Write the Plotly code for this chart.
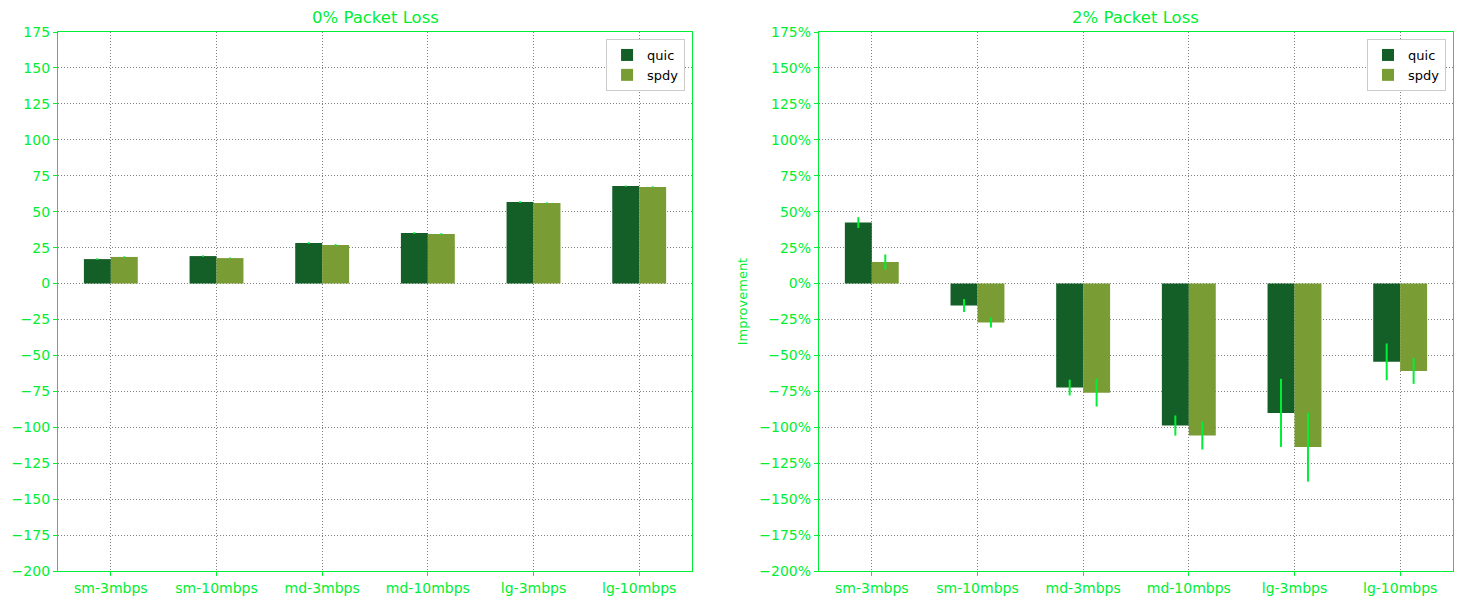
import plotly.graph_objects as go
from plotly.subplots import make_subplots

categories = ["sm-3mbps", "sm-10mbps", "md-3mbps", "md-10mbps", "lg-3mbps", "lg-10mbps"]

# 0% packet loss
quic_0 = [17.0, 19.1, 28.2, 35.1, 56.7, 67.8]
spdy_0 = [18.5, 17.7, 26.8, 34.4, 56.0, 67.2]
quic_0_err = [0.6, 0.5, 0.6, 0.6, 0.6, 0.4]
spdy_0_err = [0.4, 0.4, 0.6, 0.6, 0.4, 0.4]

# 2% packet loss
quic_2 = [42.4, -15.3, -72.4, -98.8, -90.0, -54.5]
spdy_2 = [15.0, -27.1, -75.9, -105.8, -113.8, -60.8]
quic_2_err = [3.8, 4.5, 5.5, 7.0, 23.7, 12.8]
spdy_2_err = [5.2, 3.5, 9.7, 9.7, 24.0, 9.0]

y_ticks = list(range(-200, 176, 25))

QUIC = "#135f27"
SPDY = "#799d34"
ACCENT = "#00ee33"
FONT = "DejaVu Sans"

fig = make_subplots(rows=1, cols=2, horizontal_spacing=0.091,
                    subplot_titles=("0% Packet Loss", "2% Packet Loss"))

def add_pair(col, q, s, qe, se, legend):
    for name, vals, err, color in [("quic", q, qe, QUIC), ("spdy", s, se, SPDY)]:
        fig.add_trace(go.Bar(
            x=categories, y=vals, name=name, marker_color=color, marker_line_width=0,
            error_y=dict(type="data", array=err, color=ACCENT, thickness=2, width=0),
            legend=legend,
        ), row=1, col=col)

add_pair(1, quic_0, spdy_0, quic_0_err, spdy_0_err, "legend")
add_pair(2, quic_2, spdy_2, quic_2_err, spdy_2_err, "legend2")

axis_common = dict(showline=True, linecolor=ACCENT, linewidth=1.3, mirror=True,
                   ticks="outside", ticklen=4, tickcolor=ACCENT,
                   showgrid=True, gridcolor="#808080", griddash="1px,2px", gridwidth=1,
                   tickfont=dict(color=ACCENT, size=14, family=FONT), zeroline=False)

for c in (1, 2):
    fig.update_xaxes(**axis_common, row=1, col=c)
    fig.update_yaxes(**axis_common, range=[-200, 175], tickvals=y_ticks, row=1, col=c)

fig.update_yaxes(ticktext=[f"{v}%".replace("-", "\u2212") for v in y_ticks],
                 title=dict(text="Improvement", font=dict(color=ACCENT, size=13, family=FONT), standoff=8),
                 row=1, col=2)
fig.update_yaxes(ticktext=[f"{v}".replace("-", "\u2212") for v in y_ticks], row=1, col=1)

for ann in fig.layout.annotations:
    ann.font = dict(color=ACCENT, size=16.5, family=FONT)
    ann.yshift = 3

legend_style = dict(xanchor="right", yanchor="top", y=0.987, bgcolor="white",
                    bordercolor="#cccccc", borderwidth=1,
                    font=dict(color="black", size=13, family=FONT))
# page body has an 8px margin, so the figure is a bit smaller than the window
fig.update_layout(
    width=1446, height=589,
    margin=dict(l=50, r=1, t=24, b=26),
    paper_bgcolor="white", plot_bgcolor="white",
    barmode="group", bargap=0.49, bargroupgap=0,
    font=dict(family=FONT),
    legend=dict(x=0.4545 - 0.005, **legend_style),
    legend2=dict(x=0.995, **legend_style),
)

fig.write_html("out.html")
